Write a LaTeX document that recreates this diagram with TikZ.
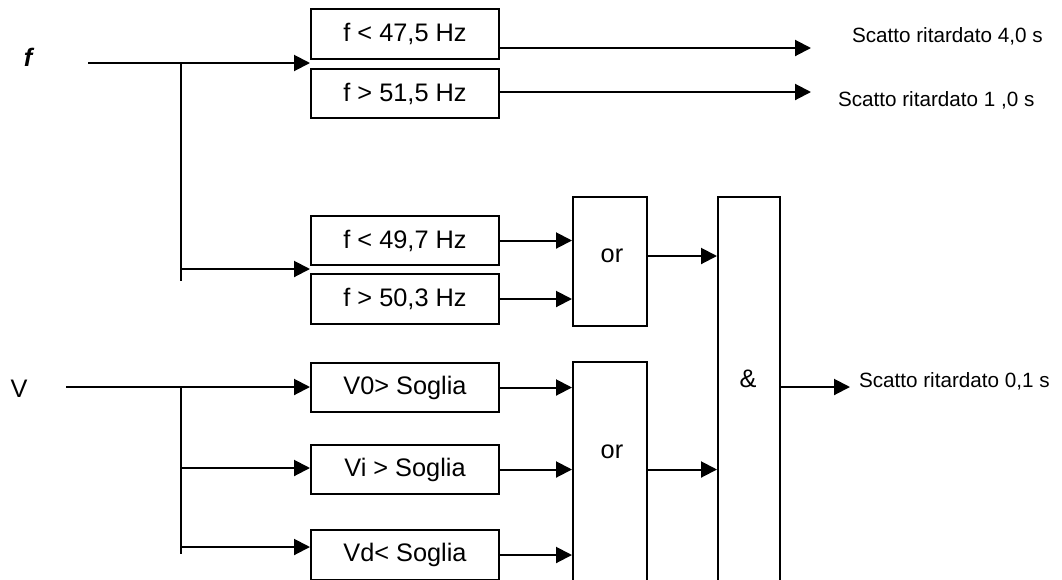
\documentclass[tikz,border=0pt]{standalone}
\usepackage{fontspec}
\setmainfont{Liberation Sans}
\usepackage{tikz}
\usetikzlibrary{arrows.meta}
\tikzset{every picture/.style={line width=1.5pt}}
\tikzset{
  blk/.style={draw, minimum width=141pt, minimum height=37pt, inner sep=0pt, font=\fontsize{19}{22}\selectfont},
  gate/.style={draw, minimum width=55.5pt, inner sep=0pt},
  txt/.style={anchor=base, inner sep=0pt, font=\fontsize{19}{22}\selectfont},
  lbl/.style={anchor=base west, inner sep=0pt, font=\fontsize{15.5}{18}\selectfont},
  arr/.style={-{Triangle[length=12pt,width=12pt]}}
}

\begin{document}
\begin{tikzpicture}[x=0.75pt,y=0.75pt,yscale=-1,xscale=1]
\useasboundingbox (0,0) rectangle (1062,579);
\clip (0,0) rectangle (1062,579);

% Threshold blocks
\node[blk] (flt475) at (405,34) {f < 47,5 Hz};
\node[blk] (fgt515) at (405,93.5) {f > 51,5 Hz};
\node[blk] (flt497) at (405,240.5) {f < 49,7 Hz};
\node[blk] (fgt503) at (405,299) {f > 50,3 Hz};
\node[blk] (vzero) at (405,387.5) {V0> Soglia};
\node[blk] (vinv) at (405,469.5) {Vi > Soglia};
\node[blk] (vdir) at (405,555) {Vd< Soglia};

% Gates
\node[gate, minimum height=96.75pt] (or1) at (610,261.5) {};
\node[gate, minimum height=193.5pt] (or2) at (610,491) {};
\node[gate, minimum width=46.5pt, minimum height=317.25pt] (and2) at (749,408.5) {};

% Text Node
\node[txt, anchor=center] (or1txt) at (612,256) {or};
% Text Node
\node[txt] (or2txt) at (612,458) {or};
% Text Node
\node[txt] (andtxt) at (748,387) {\&};
% Text Node
\node[txt, font=\bfseries\itshape\fontsize{19}{22}\selectfont] (flbl) at (28,66) {f};
% Text Node
\node[txt] (vlbl) at (19,397) {V};

% Coordinates
\coordinate (fin) at (88,63);
\coordinate (fsplit) at (181,63);
\coordinate (fend) at (181,281);
\coordinate (fbr) at (181,269);
\coordinate (vin) at (66,387);
\coordinate (vsplit) at (181,387);
\coordinate (vend) at (181,554);
\coordinate (vbr1) at (181,468);
\coordinate (vbr2) at (181,547);
\coordinate (out40) at (811,48);
\coordinate (out10) at (811,92);
\coordinate (out01) at (850,387);

% Frequency input
\draw[arr] (fin) -- (fin -| flt475.west);
\draw (fsplit) -- (fend);
\draw[arr] (fbr) -- (fbr -| flt497.west);

% Voltage input
\draw[arr] (vin) -- (vin -| vzero.west);
\draw (vsplit) -- (vend);
\draw[arr] (vbr1) -- (vbr1 -| vinv.west);
\draw[arr] (vbr2) -- (vbr2 -| vdir.west);

% Delayed trips
\draw[arr] (out40 -| flt475.east) -- (out40);
\draw[arr] (out10 -| fgt515.east) -- (out10);

% Into the or gates
\draw[arr] (flt497.east) -- (flt497.east -| or1.west);
\draw[arr] (fgt503.east) -- (fgt503.east -| or1.west);
\draw[arr] (vzero.east) -- (vzero.east -| or2.west);
\draw[arr] (vinv.east) -- (vinv.east -| or2.west);
\draw[arr] (vdir.east) -- (vdir.east -| or2.west);

% Into and out of the and gate
\draw[arr] (or1txt -| or1.east) -- (or1txt -| and2.west);
\draw[arr] (vinv.east -| or2.east) -- (vinv.east -| and2.west);
\draw[arr] (out01 -| and2.east) -- (out01);

% Text Node
\node[lbl] (t40) at (851,42) {Scatto ritardato 4,0 s};
% Text Node
\node[lbl] (t10) at (837,106) {Scatto ritardato 1 ,0 s};
% Text Node
\node[lbl] (t01) at (858,387) {Scatto ritardato 0,1 s};

\end{tikzpicture}
\end{document}
